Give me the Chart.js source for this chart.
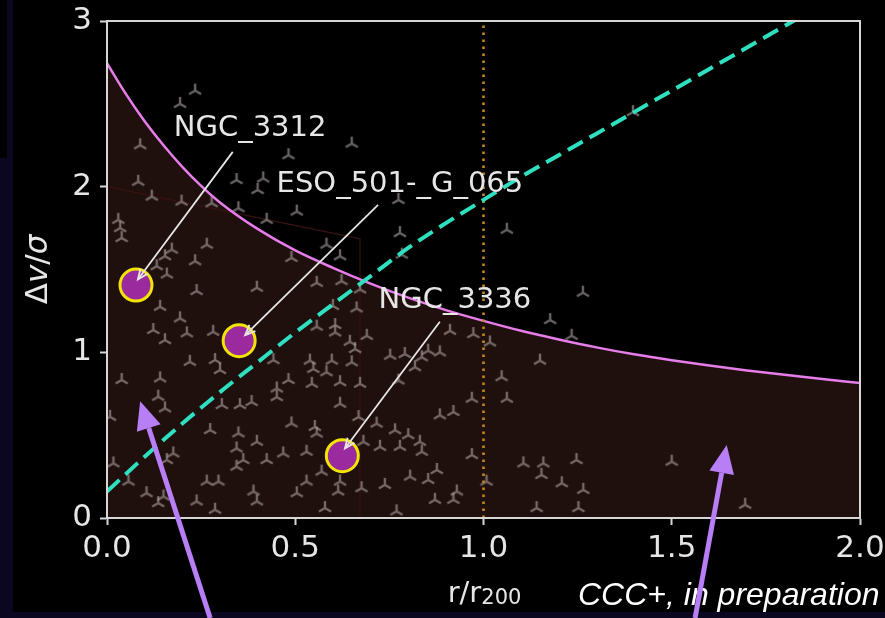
<!DOCTYPE html>
<html>
<head>
<meta charset="utf-8">
<script src="https://cdn.jsdelivr.net/npm/chart.js@4/dist/chart.umd.min.js"></script>
<style>
  html, body { margin: 0; padding: 0; width: 885px; height: 618px; overflow: hidden; background: #0b0720; }
  #painel { position: absolute; left: 13px; top: 0; width: 872px; height: 612px; background: #000; }
  #canto { position: absolute; left: 0; top: 0; width: 7px; height: 158px; background: #000; }
  canvas { position: absolute; left: 0; top: 0; }
</style>
</head>
<body>
<div id="painel"></div>
<div id="canto"></div>
<canvas id="grafico" width="885" height="618"></canvas>
<script>
// Curva de escape (caustica) em r/r200
const raioCurva = [0, 0.05, 0.1, 0.15, 0.2, 0.25, 0.3, 0.4, 0.5, 0.6, 0.7, 0.8, 0.9, 1.0, 1.1, 1.2, 1.3, 1.4, 1.5, 1.6, 1.7, 1.8, 1.9, 2.0];
const vEscape = [2.745, 2.56, 2.395, 2.25, 2.12, 2.005, 1.905, 1.745, 1.615, 1.51, 1.415, 1.33, 1.255, 1.19, 1.13, 1.078, 1.03, 0.988, 0.952, 0.92, 0.891, 0.864, 0.839, 0.815];

// Linha tracejada (tendencia)
const raioTend = [0, 0.1, 0.2, 0.3, 0.4, 0.5, 0.6, 0.7, 0.8, 0.9, 1.0, 1.1, 1.2, 1.3, 1.4, 1.5, 1.6, 1.7, 1.8, 1.9];
const vTend = [0.16, 0.37, 0.57, 0.76, 0.94, 1.12, 1.29, 1.46, 1.63, 1.78, 1.92, 2.06, 2.19, 2.32, 2.45, 2.58, 2.71, 2.84, 2.97, 3.10];

// Regiao interna (limite)
const raioRegiao = [0, 0.672, 0.672];
const vRegiao = [2.0, 1.685, 0];

// Galaxias do aglomerado
const galR = [
  0.234, 0.194, 0.088, 0.482, 0.083, 0.344, 0.415, 0.40, 0.119, 0.198, 0.278, 0.349, 0.504, 0.424, 0.03, 0.035,
  0.039, 0.172, 0.265, 0.154, 0.234, 0.132, 0.159, 0.49, 0.398, 0.238, 0.65, 0.774, 0.778, 1.062, 0.783, 0.583,
  0.619, 0.557, 0.623, 0.672, 1.397, 1.264,
  0.141, 0.194, 0.123, 0.154, 0.212, 0.282, 0.22, 0.287, 0.30, 0.141, 0.039, 0.136, 0.154, 0.008, 0.442, 0.482,
  0.451, 0.451, 0.305, 0.353, 0.384, 0.49, 0.274, 0.349, 0.398, 0.176, 0.344, 0.362, 0.424, 0.468, 0.017, 0.159,
  0.344, 0.265, 0.296, 0.057, 0.105, 0.15, 0.136, 0.238, 0.389, 0.398, 0.504, 0.287,
  0.557, 0.606, 0.606, 0.69, 0.645, 0.659, 0.539, 0.597, 0.65, 0.548, 0.583, 0.752, 0.791, 0.836, 0.884, 0.911,
  0.973, 0.853, 0.818, 0.774, 0.544, 0.619, 0.672, 0.969, 0.619, 0.668, 0.92, 0.884, 0.552, 0.557, 0.716, 0.765,
  0.80, 0.831, 0.725, 0.778, 0.836, 0.53, 0.681, 0.969, 0.876, 0.853, 0.805, 0.738, 0.619, 0.614, 0.676, 0.57,
  0.53, 0.871, 0.92, 0.929, 1.008, 0.579, 0.769, 1.017, 0.60, 0.663,
  1.177, 1.15, 1.048, 1.062, 1.106, 1.159, 1.154, 1.208, 1.247, 1.234, 1.265, 1.50, 1.141, 1.252, 1.695
];
const galV = [
  2.58, 2.50, 2.25, 2.19, 2.03, 2.04, 2.05, 1.98, 1.94, 1.91, 1.90, 1.87, 1.85, 1.80, 1.80, 1.75,
  1.69, 1.62, 1.65, 1.58, 1.55, 1.52, 1.47, 1.57, 1.39, 1.37, 2.26, 1.92, 1.72, 1.74, 1.59, 1.65,
  1.58, 1.42, 1.43, 1.38, 2.45, 1.36,
  1.275, 1.205, 1.135, 1.074, 1.115, 1.124, 0.943, 0.954, 0.893, 0.843, 0.833, 0.732, 0.662, 0.611, 0.953, 0.833,
  0.782, 0.73, 0.682, 0.682, 0.70, 0.571, 0.531, 0.511, 0.46, 0.39, 0.42, 0.35, 0.35, 0.39, 0.33, 0.35,
  0.31, 0.22, 0.22, 0.22, 0.15, 0.13, 0.09, 0.10, 0.16, 0.10, 0.15, 0.05,
  1.155, 1.165, 1.12, 1.10, 1.064, 1.02, 0.95, 0.95, 0.94, 0.90, 0.88, 0.98, 0.99, 0.97, 1.00, 1.13,
  1.11, 1.01, 0.91, 0.83, 0.81, 0.82, 0.81, 0.72, 0.69, 0.61, 0.64, 0.62, 0.55, 0.51, 0.57, 0.53,
  0.50, 0.46, 0.43, 0.43, 0.40, 0.40, 0.46, 0.38, 0.29, 0.23, 0.25, 0.20, 0.22, 0.16, 0.18, 0.28,
  0.22, 0.11, 0.11, 0.16, 0.22, 0.06, 0.04, 1.06, 1.28, 1.265,
  1.195, 0.95, 0.85, 0.72, 0.33, 0.33, 0.26, 0.21, 0.35, 1.10, 0.17, 0.34, 0.06, 0.06, 0.08
];

// Galaxias em destaque
const nomes = ['NGC_3312', 'ESO_501-_G_065', 'NGC_3336'];
const destR = [0.077, 0.351, 0.625];
const destV = [1.406, 1.07, 0.376];

// Rotulos: posicao do texto, inicio e ponta da seta (r/r200, dv/sigma)
const rotulos = [
  { tx: 0.38, ty: 2.35, x0: 0.334, y0: 2.21, x1: 0.082, y1: 1.44 },
  { tx: 0.778, ty: 2.016, x0: 0.72, y0: 1.89, x1: 0.367, y1: 1.104 },
  { tx: 0.924, ty: 1.316, x0: 0.884, y0: 1.185, x1: 0.632, y1: 0.42 }
];

// Setas roxas vindas de baixo
const setas = [
  { x0: 0.274, y0: -0.604, x1: 0.088, y1: 0.704 },
  { x0: 1.562, y0: -0.604, x1: 1.646, y1: 0.44 }
];

const ticksX = [0, 0.5, 1.0, 1.5, 2.0];
const ticksY = [0, 1, 2, 3];

const corEixo = '#d6d6d6';
const corTexto = '#e6e6e6';

const pares = (xs, ys) => xs.map((v, i) => ({ x: v, y: ys[i] }));

// Marcador em tripe (tri_up)
function marcadorTri() {
  const c = document.createElement('canvas');
  c.width = 18; c.height = 18;
  const g = c.getContext('2d');
  const r = 7;
  g.strokeStyle = 'rgba(175,165,165,0.6)';
  g.lineWidth = 2.4;
  g.beginPath();
  g.moveTo(9, 9); g.lineTo(9, 9 - r);
  g.moveTo(9, 9); g.lineTo(9 - 0.866 * r, 9 + 0.5 * r);
  g.moveTo(9, 9); g.lineTo(9 + 0.866 * r, 9 + 0.5 * r);
  g.stroke();
  return c;
}

function textoMisto(ctx, partes, cx, cy) {
  let total = 0;
  partes.forEach(p => {
    ctx.font = (p.it ? 'italic ' : '') + p.size + 'px "DejaVu Sans"';
    p.w = ctx.measureText(p.t).width;
    total += p.w;
  });
  let x = cx - total / 2;
  partes.forEach(p => {
    ctx.font = (p.it ? 'italic ' : '') + p.size + 'px "DejaVu Sans"';
    ctx.fillText(p.t, x, cy + (p.dy || 0));
    x += p.w;
  });
}

function setaGrossa(ctx, x0, y0, x1, y1, largura, comp, abertura) {
  const a = Math.atan2(y1 - y0, x1 - x0);
  const bx = x1 - comp * Math.cos(a), by = y1 - comp * Math.sin(a);
  ctx.lineWidth = largura;
  ctx.beginPath(); ctx.moveTo(x0, y0); ctx.lineTo(bx, by); ctx.stroke();
  ctx.beginPath();
  ctx.moveTo(x1, y1);
  ctx.lineTo(bx + abertura / 2 * Math.sin(a), by - abertura / 2 * Math.cos(a));
  ctx.lineTo(bx - abertura / 2 * Math.sin(a), by + abertura / 2 * Math.cos(a));
  ctx.closePath(); ctx.fill();
}

const extras = {
  id: 'extras',
  afterDatasetsDraw(chart) {
    const { ctx, chartArea: a, scales: { x, y } } = chart;
    ctx.save();
    ctx.strokeStyle = corEixo;
    ctx.lineWidth = 2;
    ctx.strokeRect(a.left, a.top, a.right - a.left, a.bottom - a.top);

    // nomes e setas brancas
    ctx.fillStyle = corTexto;
    ctx.strokeStyle = corTexto;
    ctx.font = '29px "DejaVu Sans"';
    ctx.textAlign = 'center';
    ctx.textBaseline = 'middle';
    rotulos.forEach((r, i) => {
      ctx.fillText(nomes[i], x.getPixelForValue(r.tx), y.getPixelForValue(r.ty));
      const px0 = x.getPixelForValue(r.x0), py0 = y.getPixelForValue(r.y0);
      const px1 = x.getPixelForValue(r.x1), py1 = y.getPixelForValue(r.y1);
      const ang = Math.atan2(py1 - py0, px1 - px0);
      ctx.lineWidth = 1.8;
      ctx.beginPath(); ctx.moveTo(px0, py0); ctx.lineTo(px1, py1); ctx.stroke();
      ctx.beginPath();
      ctx.moveTo(px1 - 11 * Math.cos(ang - 0.4), py1 - 11 * Math.sin(ang - 0.4));
      ctx.lineTo(px1, py1);
      ctx.lineTo(px1 - 11 * Math.cos(ang + 0.4), py1 - 11 * Math.sin(ang + 0.4));
      ctx.stroke();
    });
    ctx.restore();
  },
  afterDraw(chart) {
    const { ctx, chartArea: a, scales: { x, y } } = chart;
    ctx.save();
    ctx.fillStyle = corTexto;
    ctx.textBaseline = 'alphabetic';
    // titulo do eixo x
    textoMisto(ctx, [{ t: 'r/r', size: 29 }, { t: '200', size: 21, dy: 2 }], (a.left + a.right) / 2 + 1, 602);
    // titulo do eixo y
    ctx.translate(39, (a.top + a.bottom) / 2);
    ctx.rotate(-Math.PI / 2);
    ctx.textBaseline = 'middle';
    textoMisto(ctx, [{ t: 'Δ', size: 31 }, { t: 'v', size: 31, it: true }, { t: '/', size: 31 }, { t: 'σ', size: 31, it: true }], 0, 0);
    ctx.restore();

    ctx.save();
    ctx.fillStyle = '#ffffff';
    ctx.font = 'italic 32px "Liberation Sans"';
    ctx.textAlign = 'left';
    ctx.textBaseline = 'alphabetic';
    ctx.fillText('CCC+, in preparation', 578, 605);

    ctx.fillStyle = '#b87ef6';
    ctx.strokeStyle = '#b87ef6';
    setas.forEach(s => {
      setaGrossa(ctx, x.getPixelForValue(s.x0), y.getPixelForValue(s.y0),
        x.getPixelForValue(s.x1), y.getPixelForValue(s.y1), 5, 28, 25);
    });
    ctx.restore();
  }
};

const fonteTick = { family: 'DejaVu Sans', size: 31 };

new Chart(document.getElementById('grafico'), {
  type: 'scatter',
  data: {
    datasets: [
      {
        type: 'line',
        data: pares(raioRegiao, vRegiao),
        borderColor: '#361310',
        borderWidth: 1.2,
        pointRadius: 0,
        fill: false,
        order: 6
      },
      {
        data: pares(galR, galV),
        pointStyle: marcadorTri(),
        pointRadius: 7,
        order: 5
      },
      {
        type: 'line',
        data: pares(raioCurva, vEscape),
        borderColor: '#e67de9',
        borderWidth: 2.5,
        backgroundColor: '#1f0f0d',
        fill: 'origin',
        pointRadius: 0,
        cubicInterpolationMode: 'monotone',
        order: 4
      },
      {
        type: 'line',
        data: [{ x: 1, y: 0 }, { x: 1, y: 3 }],
        borderColor: '#c8861c',
        borderWidth: 2.6,
        borderDash: [2.6, 4.4],
        pointRadius: 0,
        fill: false,
        order: 3
      },
      {
        type: 'line',
        data: pares(raioTend, vTend),
        borderColor: '#2fe0c0',
        borderWidth: 4,
        borderDash: [17, 8],
        pointRadius: 0,
        fill: false,
        cubicInterpolationMode: 'monotone',
        order: 2
      },
      {
        data: pares(destR, destV),
        pointRadius: 16,
        backgroundColor: '#9b2a9f',
        borderColor: '#f2e600',
        borderWidth: 3,
        order: 1
      }
    ]
  },
  options: {
    responsive: false,
    animation: false,
    events: [],
    layout: { padding: { top: 21, right: 25, left: 0, bottom: 0 } },
    plugins: {
      legend: { display: false },
      tooltip: { enabled: false },
      filler: { drawTime: 'beforeDatasetsDraw' }
    },
    scales: {
      x: {
        type: 'linear',
        min: 0,
        max: 2,
        afterBuildTicks: s => { s.ticks = ticksX.map(v => ({ value: v })); },
        ticks: { color: corTexto, font: fonteTick, padding: 5, maxRotation: 0, autoSkip: false, callback: v => v.toFixed(1) },
        grid: { drawOnChartArea: false, color: corEixo, tickLength: 7, tickWidth: 2 },
        border: { color: corEixo, width: 2 },
        afterFit: s => { s.height = 100; s.paddingLeft = 0; s.paddingRight = 0; }
      },
      y: {
        type: 'linear',
        min: 0,
        max: 3,
        afterBuildTicks: s => { s.ticks = ticksY.map(v => ({ value: v })); },
        ticks: { color: corTexto, font: fonteTick, padding: 8, autoSkip: false, callback: v => String(v) },
        grid: { drawOnChartArea: false, color: corEixo, tickLength: 7, tickWidth: 2 },
        border: { color: corEixo, width: 2 },
        afterFit: s => { s.width = 107; s.paddingTop = 0; s.paddingBottom = 0; }
      }
    }
  },
  plugins: [extras]
});
</script>
</body>
</html>
